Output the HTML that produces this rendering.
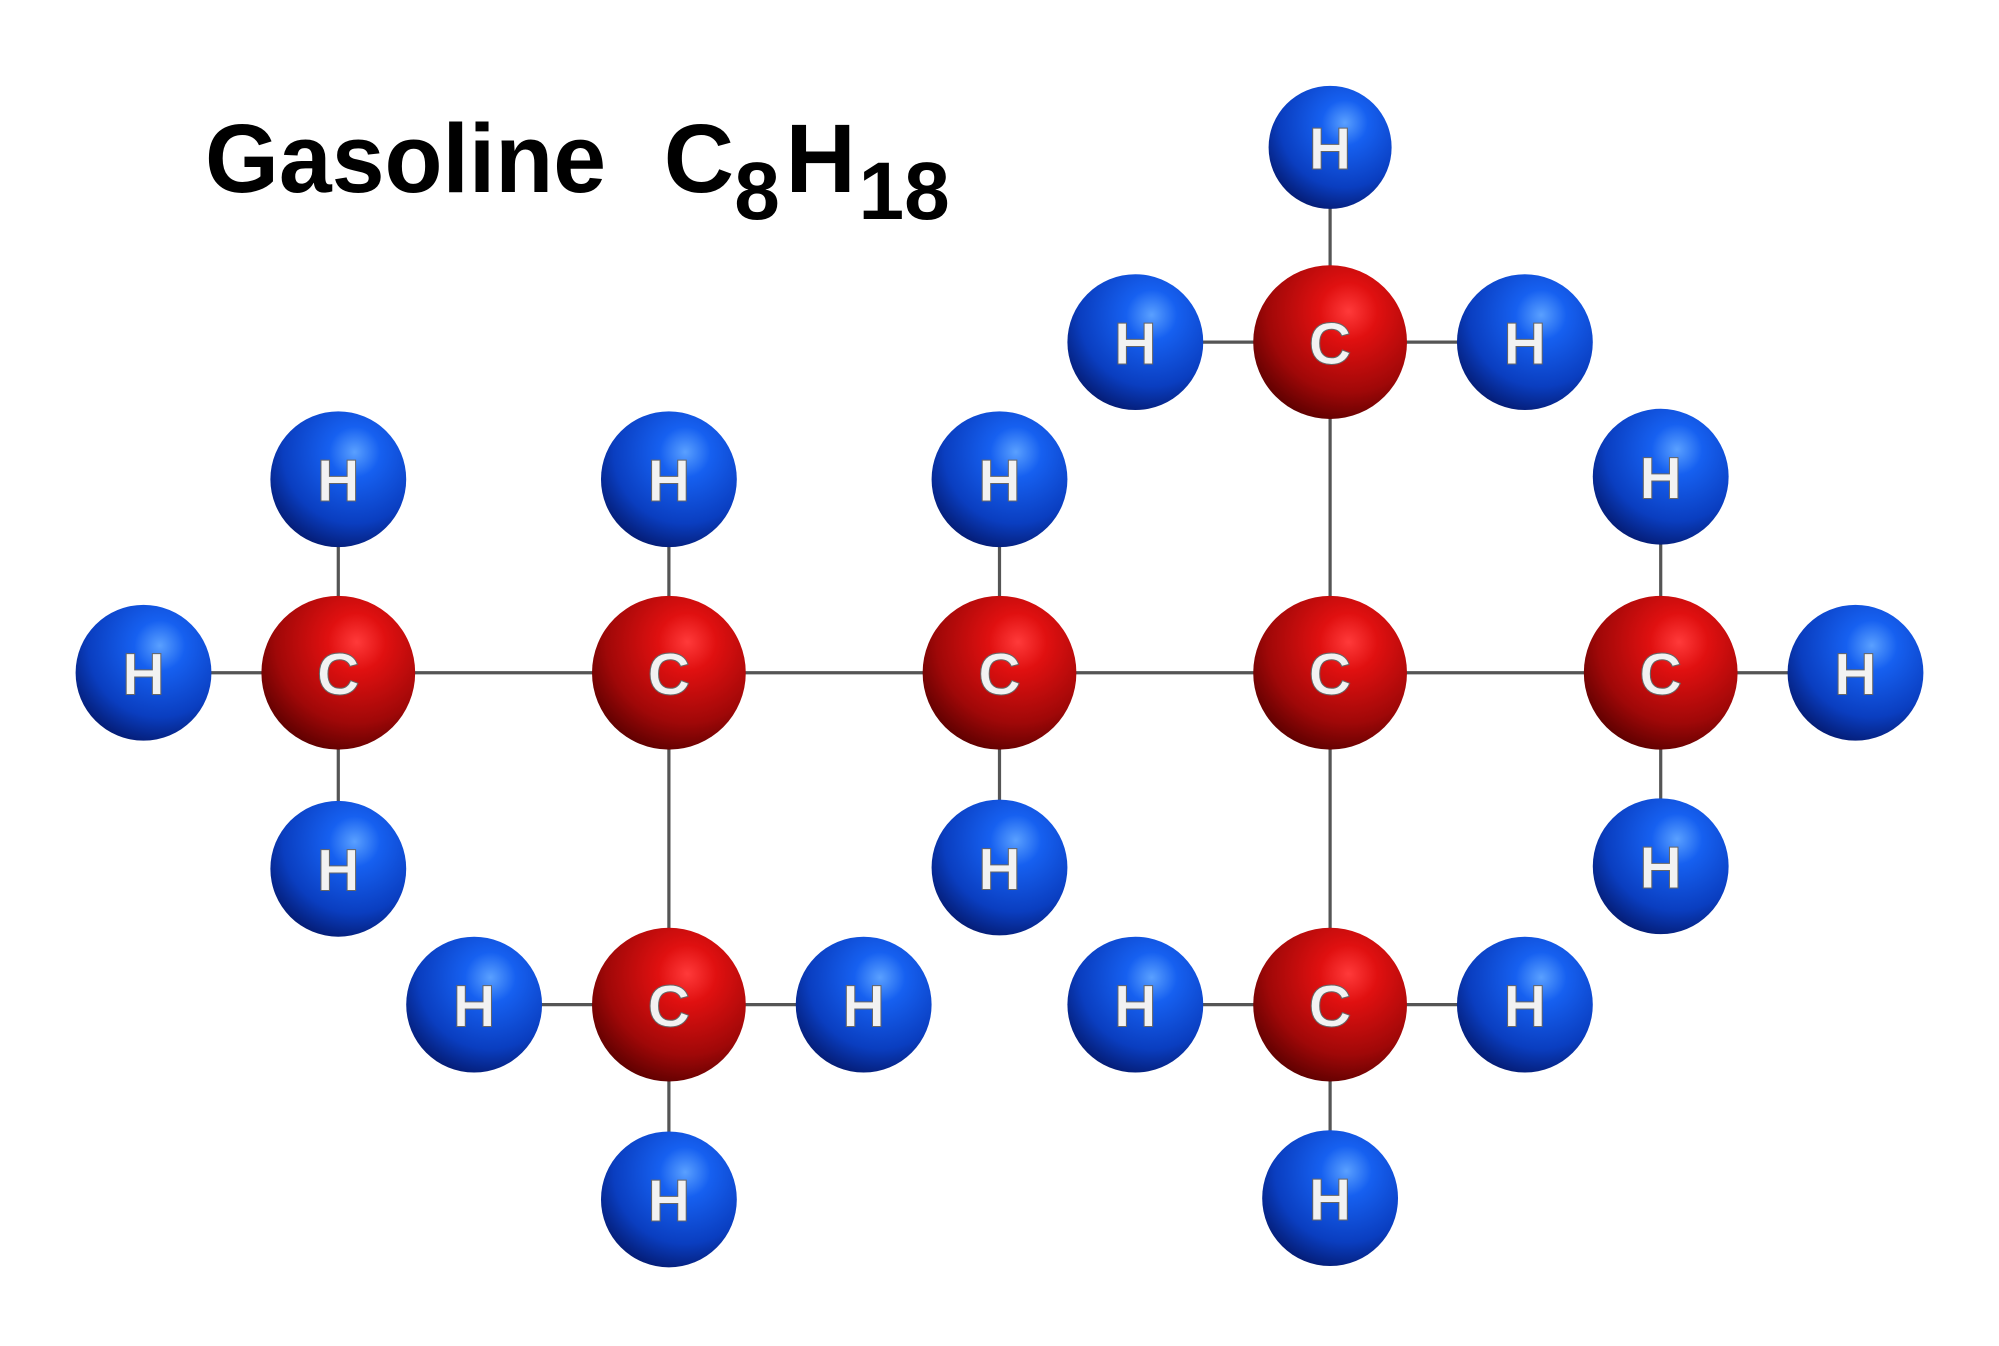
<!DOCTYPE html>
<html><head><meta charset="utf-8"><style>
html,body{margin:0;padding:0;background:#fff;}
svg{display:block;}
</style></head><body>
<svg width="1999" height="1346" viewBox="0 0 1560 1050.4" preserveAspectRatio="none" xmlns="http://www.w3.org/2000/svg">
<defs>
<radialGradient id="gr" cx="0.62" cy="0.3" r="0.75">
<stop offset="0" stop-color="#ff3a3a"/><stop offset="0.25" stop-color="#e01010"/><stop offset="0.7" stop-color="#a00808"/><stop offset="1" stop-color="#5a0000"/>
</radialGradient>
<radialGradient id="gb" cx="0.62" cy="0.3" r="0.75">
<stop offset="0" stop-color="#5aa0ff"/><stop offset="0.25" stop-color="#1660f0"/><stop offset="0.7" stop-color="#0a3ec0"/><stop offset="1" stop-color="#041a70"/>
</radialGradient>
</defs>
<g stroke="#555" stroke-width="2.5">
<line x1="112" y1="525" x2="1448" y2="525"/>
<line x1="264" y1="374" x2="264" y2="678"/>
<line x1="522" y1="374" x2="522" y2="936"/>
<line x1="780" y1="374" x2="780" y2="677"/>
<line x1="1296" y1="372" x2="1296" y2="676"/>
<line x1="1038" y1="115" x2="1038" y2="935"/>
<line x1="886" y1="267" x2="1190" y2="267"/>
<line x1="370" y1="784" x2="674" y2="784"/>
<line x1="886" y1="784" x2="1190" y2="784"/>
</g>
<g fill="url(#gb)">
<circle cx="1038" cy="115" r="48"/>
<circle cx="886" cy="267" r="53"/><circle cx="1190" cy="267" r="53"/>
<circle cx="264" cy="374" r="53"/><circle cx="522" cy="374" r="53"/><circle cx="780" cy="374" r="53"/><circle cx="1296" cy="372" r="53"/>
<circle cx="112" cy="525" r="53"/><circle cx="1448" cy="525" r="53"/>
<circle cx="264" cy="678" r="53"/><circle cx="780" cy="677" r="53"/><circle cx="1296" cy="676" r="53"/>
<circle cx="370" cy="784" r="53"/><circle cx="674" cy="784" r="53"/><circle cx="886" cy="784" r="53"/><circle cx="1190" cy="784" r="53"/>
<circle cx="522" cy="936" r="53"/><circle cx="1038" cy="935" r="53"/>
</g>
<g fill="url(#gr)">
<circle cx="1038" cy="267" r="60"/>
<circle cx="264" cy="525" r="60"/><circle cx="522" cy="525" r="60"/><circle cx="780" cy="525" r="60"/><circle cx="1038" cy="525" r="60"/><circle cx="1296" cy="525" r="60"/>
<circle cx="522" cy="784" r="60"/><circle cx="1038" cy="784" r="60"/>
</g>
<g font-family="Liberation Sans, sans-serif" font-weight="bold" font-size="46" fill="#f2f2f2" text-anchor="middle" stroke="#666" stroke-width="0.8">
<text x="1038" y="132">H</text>
<text x="886" y="284">H</text><text x="1190" y="284">H</text>
<text x="264" y="391">H</text><text x="522" y="391">H</text><text x="780" y="391">H</text><text x="1296" y="389">H</text>
<text x="112" y="542">H</text><text x="1448" y="542">H</text>
<text x="264" y="695">H</text><text x="780" y="694">H</text><text x="1296" y="693">H</text>
<text x="370" y="801">H</text><text x="674" y="801">H</text><text x="886" y="801">H</text><text x="1190" y="801">H</text>
<text x="522" y="953">H</text><text x="1038" y="952">H</text>
<text x="1038" y="284">C</text>
<text x="264" y="542">C</text><text x="522" y="542">C</text><text x="780" y="542">C</text><text x="1038" y="542">C</text><text x="1296" y="542">C</text>
<text x="522" y="801">C</text><text x="1038" y="801">C</text>
</g>
<g font-family="Liberation Sans, sans-serif" font-weight="bold" fill="#000">
<text x="160" y="150" font-size="76" textLength="313" lengthAdjust="spacingAndGlyphs">Gasoline</text>
<text x="518" y="150" font-size="76">C</text>
<text x="573" y="171" font-size="64">8</text>
<text x="613" y="150" font-size="76">H</text>
<text x="670" y="171" font-size="64">18</text>
</g>
</svg>
</body></html>
